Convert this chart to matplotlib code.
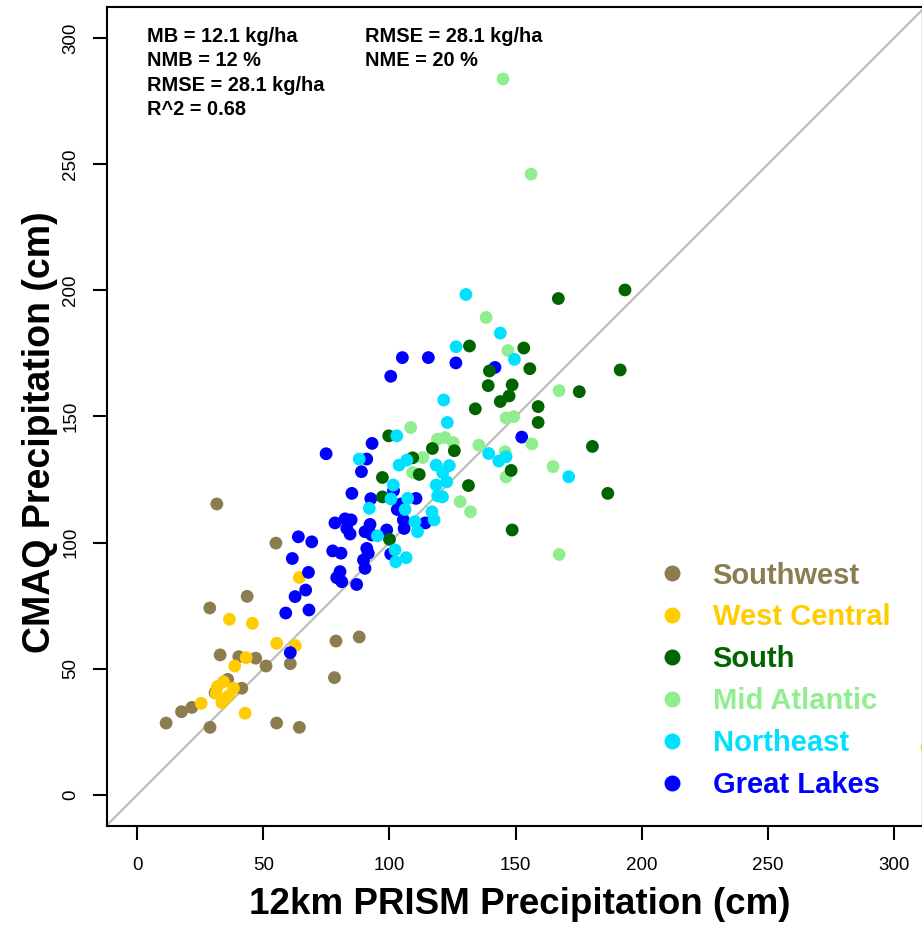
import numpy as np
import matplotlib.pyplot as plt
from matplotlib.lines import Line2D

plt.rcParams['font.family'] = ['Liberation Sans', 'DejaVu Sans']

# region data (x = PRISM, y = CMAQ), cm
sw_x = [31.6, 55.0, 43.6, 28.8, 32.9, 40.3, 47.0, 51.1, 60.7, 35.9, 41.5, 30.9, 21.7, 17.6, 11.5, 28.9, 55.3, 64.3, 78.8, 88.0, 78.2]
sw_y = [115.3, 99.8, 78.7, 74.1, 55.5, 54.8, 54.2, 51.1, 52.0, 45.8, 42.3, 40.5, 34.7, 33.0, 28.5, 26.8, 28.5, 26.8, 61.0, 62.6, 46.5]

wc_x = [64.3, 36.6, 45.7, 55.3, 62.7, 43.2, 38.7, 34.2, 31.8, 38.2, 31.3, 36.2, 33.6, 25.4, 42.8, 313.0]
wc_y = [86.2, 69.6, 68.0, 60.1, 59.2, 54.4, 51.1, 44.9, 42.9, 42.3, 40.3, 39.2, 36.6, 36.3, 32.4, 19.0]

s_x = [193.3, 166.9, 131.7, 153.2, 139.6, 155.6, 191.4, 139.1, 148.6, 147.4, 143.9, 175.2, 134.0, 158.9,
       158.9, 180.4, 117.0, 125.7, 148.2, 131.3, 186.5, 148.6, 99.7, 109.2, 111.8, 97.2, 97.2, 100.0]
s_y = [200.1, 196.7, 177.9, 177.1, 168.0, 168.9, 168.4, 162.2, 162.5, 158.1, 155.9, 159.8, 153.0, 153.9,
       147.6, 138.1, 137.3, 136.4, 128.6, 122.6, 119.5, 105.0, 142.3, 133.6, 127.0, 125.8, 118.1, 101.3]

ma_x = [145.0, 156.1, 138.3, 146.9, 167.2, 146.2, 149.2, 119.0, 122.0, 125.3, 135.4, 156.4, 113.2, 145.8,
        146.2, 164.8, 128.0, 132.1, 167.2, 108.4, 109.2]
ma_y = [283.7, 246.0, 189.2, 176.1, 160.2, 149.4, 149.9, 141.0, 141.6, 139.6, 138.6, 139.1, 133.7, 136.0,
        126.0, 130.1, 116.2, 112.2, 95.3, 145.6, 127.8]

ne_x = [130.3, 126.4, 121.5, 122.9, 102.9, 88.0, 103.8, 106.9, 118.5, 123.7, 121.1, 101.5, 118.5, 122.7,
        119.1, 121.0, 100.6, 107.2, 106.2, 92.0, 116.8, 117.7, 110.1, 111.1, 95.2, 102.2, 102.5, 106.6,
        143.9, 149.5, 139.3, 143.3, 146.2, 171.0]
ne_y = [198.3, 177.6, 156.5, 147.6, 142.3, 133.1, 130.7, 132.7, 130.7, 130.5, 127.7, 122.8, 122.8, 124.1,
        118.5, 118.1, 117.3, 117.5, 113.1, 113.6, 112.2, 109.0, 108.3, 104.3, 102.7, 97.1, 92.4, 94.0,
        183.0, 172.6, 135.3, 132.3, 134.0, 126.1]

gl_x = [105.1, 115.4, 126.3, 100.5, 74.9, 93.1, 91.0, 88.9, 85.1, 92.6, 110.5, 103.1, 101.6, 105.5, 105.8,
        114.2, 78.4, 82.4, 84.8, 83.1, 84.4, 90.3, 92.3, 93.0, 98.9, 63.9, 69.2, 61.5, 77.5, 80.8, 91.0,
        91.6, 89.7, 90.3, 100.5, 67.9, 80.4, 79.1, 81.1, 87.0, 66.8, 62.6, 58.9, 68.1, 60.7, 141.8, 152.4, 104.6]
gl_y = [173.3, 173.3, 171.2, 165.9, 135.2, 139.3, 133.1, 128.1, 119.5, 117.4, 117.5, 113.1, 120.6, 109.0, 105.6,
        107.8, 107.8, 109.4, 109.0, 105.6, 103.4, 104.3, 107.2, 103.0, 105.0, 102.3, 100.3, 93.7, 96.7, 95.8, 97.7,
        95.8, 93.1, 89.8, 95.5, 88.2, 88.5, 86.1, 84.5, 83.4, 81.2, 78.6, 72.1, 73.3, 56.4, 169.4, 141.8, 115.3]

regions = ['Southwest', 'West Central', 'South', 'Mid Atlantic', 'Northeast', 'Great Lakes']
colors = {'Southwest': '#8B7D50', 'West Central': '#FFCC00', 'South': '#006400',
          'Mid Atlantic': '#90EE90', 'Northeast': '#00E0FF', 'Great Lakes': '#0000FF'}
# drawing order (back to front)
series = [('Southwest', sw_x, sw_y), ('West Central', wc_x, wc_y), ('Great Lakes', gl_x, gl_y),
          ('Mid Atlantic', ma_x, ma_y), ('South', s_x, s_y), ('Northeast', ne_x, ne_y)]

ticks = [0, 50, 100, 150, 200, 250, 300]
stats1 = 'MB = 12.1 kg/ha\nNMB = 12 %\nRMSE = 28.1 kg/ha\nR^2 = 0.68'
stats2 = 'RMSE = 28.1 kg/ha\nNME = 20 %'

fig = plt.figure(figsize=(9.22, 9.25), dpi=100)
ax = fig.add_axes([0.1161, 0.107, 0.8834, 0.8854])

ax.plot([-20, 320], [-20, 320], color='#BEBEBE', lw=1.6, zorder=1)
for name, xs, ys in series:
    ax.scatter(xs, ys, s=85, color=colors[name], edgecolors='none', zorder=2, clip_on=False)

ax.set_xlim(-11.9, 310.8)
ax.set_ylim(-12.3, 312.2)
ax.set_xticks(ticks)
ax.set_yticks(ticks)
ax.set_yticklabels([str(t) for t in ticks], rotation=90, va='center')
ax.tick_params(direction='out', length=10, width=1.5, labelsize=13.5)
ax.tick_params(axis='x', pad=12)
ax.tick_params(axis='y', pad=10)
for side in ['left', 'bottom', 'top']:
    ax.spines[side].set_linewidth(1.5)
ax.spines['right'].set_linewidth(1)
ax.spines['right'].set_color('#AAAAAA')

ax.set_xlabel('12km PRISM Precipitation (cm)', fontsize=26.5, fontweight='bold')
ax.set_ylabel('CMAQ Precipitation (cm)', fontsize=27, fontweight='bold')
ax.xaxis.set_label_coords(0.507, -0.0745)
ax.yaxis.set_label_coords(-0.0602, 0.481)

ax.text(4.0, 304.3, stats1, fontsize=14.4, fontweight='bold', va='top', ha='left', linespacing=1.36)
ax.text(90.3, 304.3, stats2, fontsize=14.4, fontweight='bold', va='top', ha='left', linespacing=1.36)

handles = [Line2D([], [], ls='none', marker='o', markersize=11.5, color=colors[r], markeredgewidth=0)
           for r in regions]
leg = ax.legend(handles, regions, loc='upper left', bbox_to_anchor=(207.2, 92.5),
                bbox_transform=ax.transData, frameon=False, fontsize=21, handlelength=0.8,
                handletextpad=1.0, labelspacing=0.475, borderpad=0, borderaxespad=0)
for txt, r in zip(leg.get_texts(), regions):
    txt.set_color(colors[r])
    txt.set_fontweight('bold')

fig.savefig('out.png', dpi=100)
